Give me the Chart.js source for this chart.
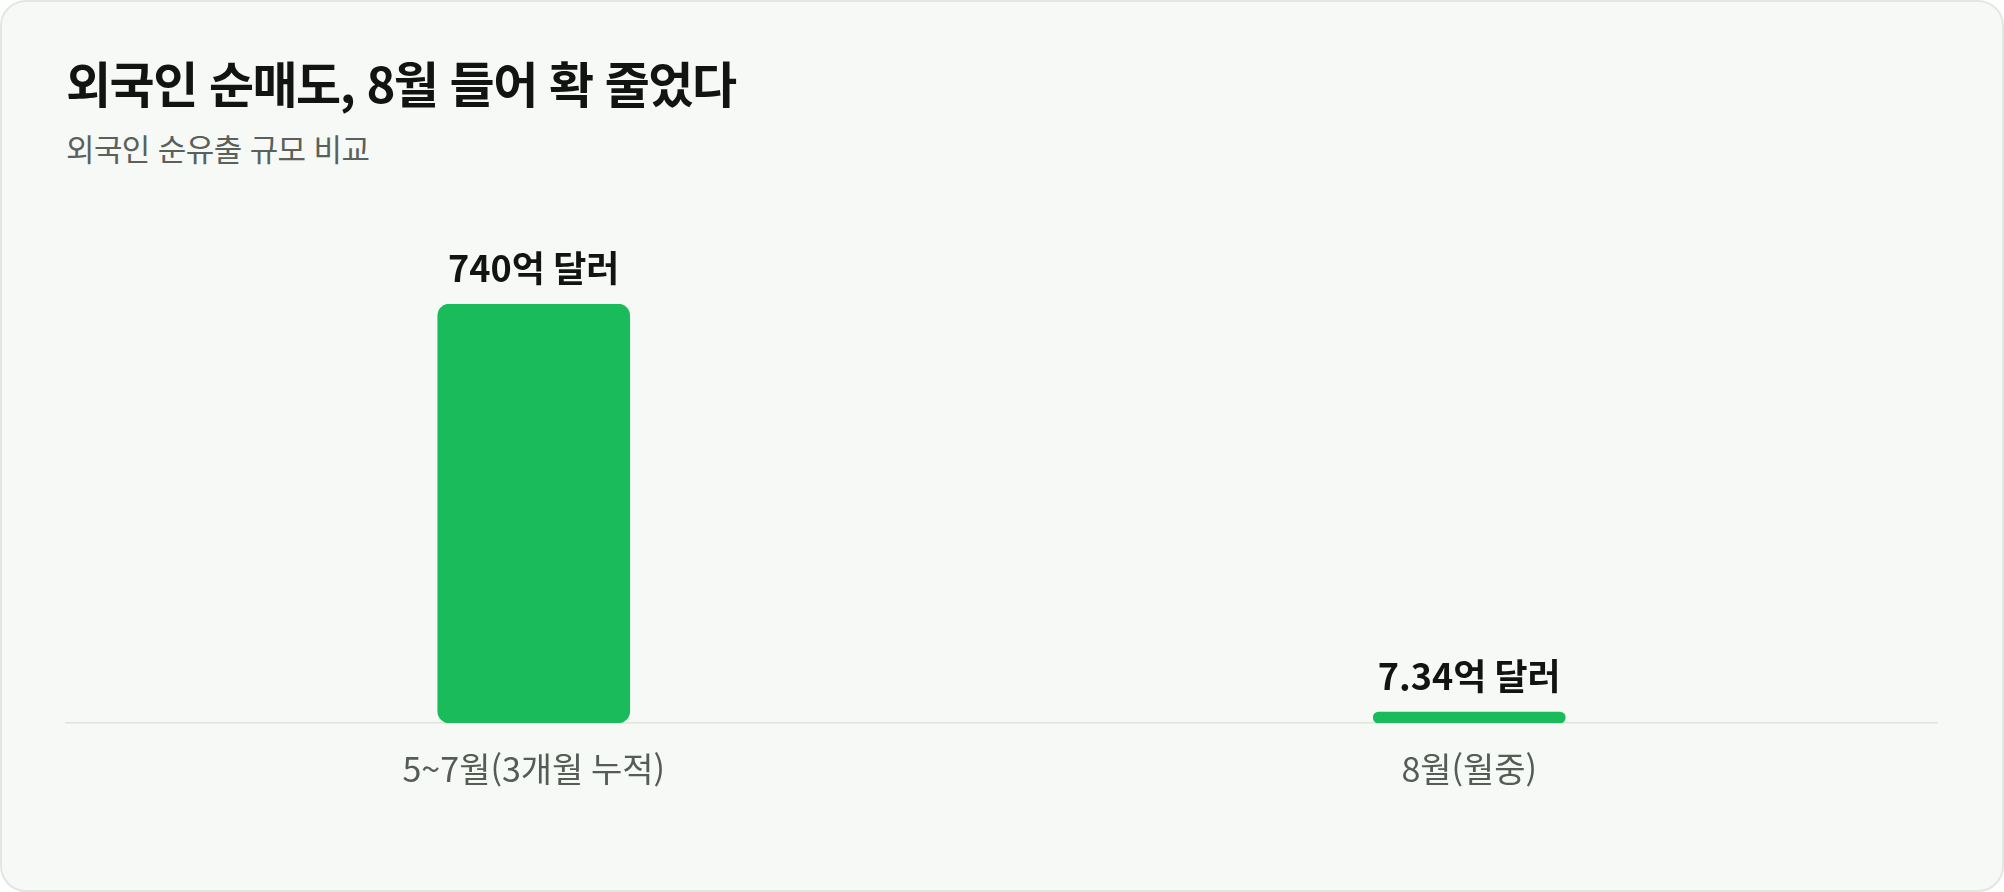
<!DOCTYPE html>
<html lang="ko">
<head>
  <meta charset="UTF-8">
  <title>외국인 순매도, 8월 들어 확 줄었다</title>
  <script src="https://cdn.jsdelivr.net/npm/chart.js"></script>
  <style>
    html, body {
      margin: 0;
      padding: 0;
      background: #ffffff;
      width: 2004px;
      height: 892px;
      overflow: hidden;
      font-family: "Noto Sans CJK KR", "Noto Sans", sans-serif;
    }
    .card {
      position: absolute;
      left: 0;
      top: 0;
      width: 2000px;
      height: 888px;
      border: 2px solid #e2e7e2;
      border-radius: 26px;
      background: #f7f9f6;
    }
    h1 {
      position: absolute;
      left: 64px;
      top: 55px;
      margin: 0;
      font-size: 49px;
      line-height: 1;
      font-weight: 700;
      letter-spacing: -1.5px;
      color: #111411;
    }
    .sub {
      position: absolute;
      left: 64px;
      top: 130px;
      margin: 0;
      font-size: 31px;
      line-height: 1;
      font-weight: 400;
      letter-spacing: -0.6px;
      color: #5a605a;
    }
    .wrap {
      position: absolute;
      left: 0;
      top: 180px;
      width: 2004px;
      height: 680px;
    }
  </style>
</head>
<body>
  <div class="card">
    <h1>외국인 순매도, 8월 들어 확 줄었다</h1>
    <p class="sub">외국인 순유출 규모 비교</p>
  </div>
  <div class="wrap"><canvas id="flowChart"></canvas></div>

  <script>
    // 구간별 외국인 순유출 (억 달러)
    const categories = ['5~7월(3개월 누적)', '8월(월중)'];
    const outflows = [740, 7.34];
    const valueLabels = ['740억 달러', '7.34억 달러'];

    const ctx = document.getElementById('flowChart').getContext('2d');

    // 막대 위 값 표시
    const valueLabelPlugin = {
      id: 'valueLabels',
      afterDatasetsDraw(chart) {
        const c = chart.ctx;
        const meta = chart.getDatasetMeta(0);
        c.save();
        c.font = '700 36px "Noto Sans CJK KR", sans-serif';
        c.fillStyle = '#111411';
        c.textAlign = 'center';
        c.textBaseline = 'bottom';
        meta.data.forEach((bar, i) => {
          c.fillText(valueLabels[i], bar.x, bar.y - 18);
        });
        c.restore();
      }
    };

    const chart = new Chart(ctx, {
      type: 'bar',
      data: {
        labels: categories,
        datasets: [{
          data: outflows,
          backgroundColor: '#1abb5a',
          borderRadius: 12,
          borderSkipped: false,
          barThickness: 192,
          minBarLength: 11
        }]
      },
      options: {
        responsive: true,
        maintainAspectRatio: false,
        animation: false,
        layout: {
          padding: { left: 66, right: 67, top: 124, bottom: 0 }
        },
        plugins: {
          legend: { display: false },
          tooltip: { enabled: false }
        },
        scales: {
          x: {
            grid: { display: false, drawTicks: false },
            border: { display: true, color: '#dfe4df', width: 1.5 },
            ticks: {
              color: '#555b55',
              padding: 26,
              font: { family: '"Noto Sans CJK KR", sans-serif', size: 34 }
            },
            afterFit(scale) { scale.height = 137; }
          },
          y: {
            display: false,
            min: 0,
            max: 740
          }
        }
      },
      plugins: [valueLabelPlugin]
    });
  </script>
</body>
</html>
